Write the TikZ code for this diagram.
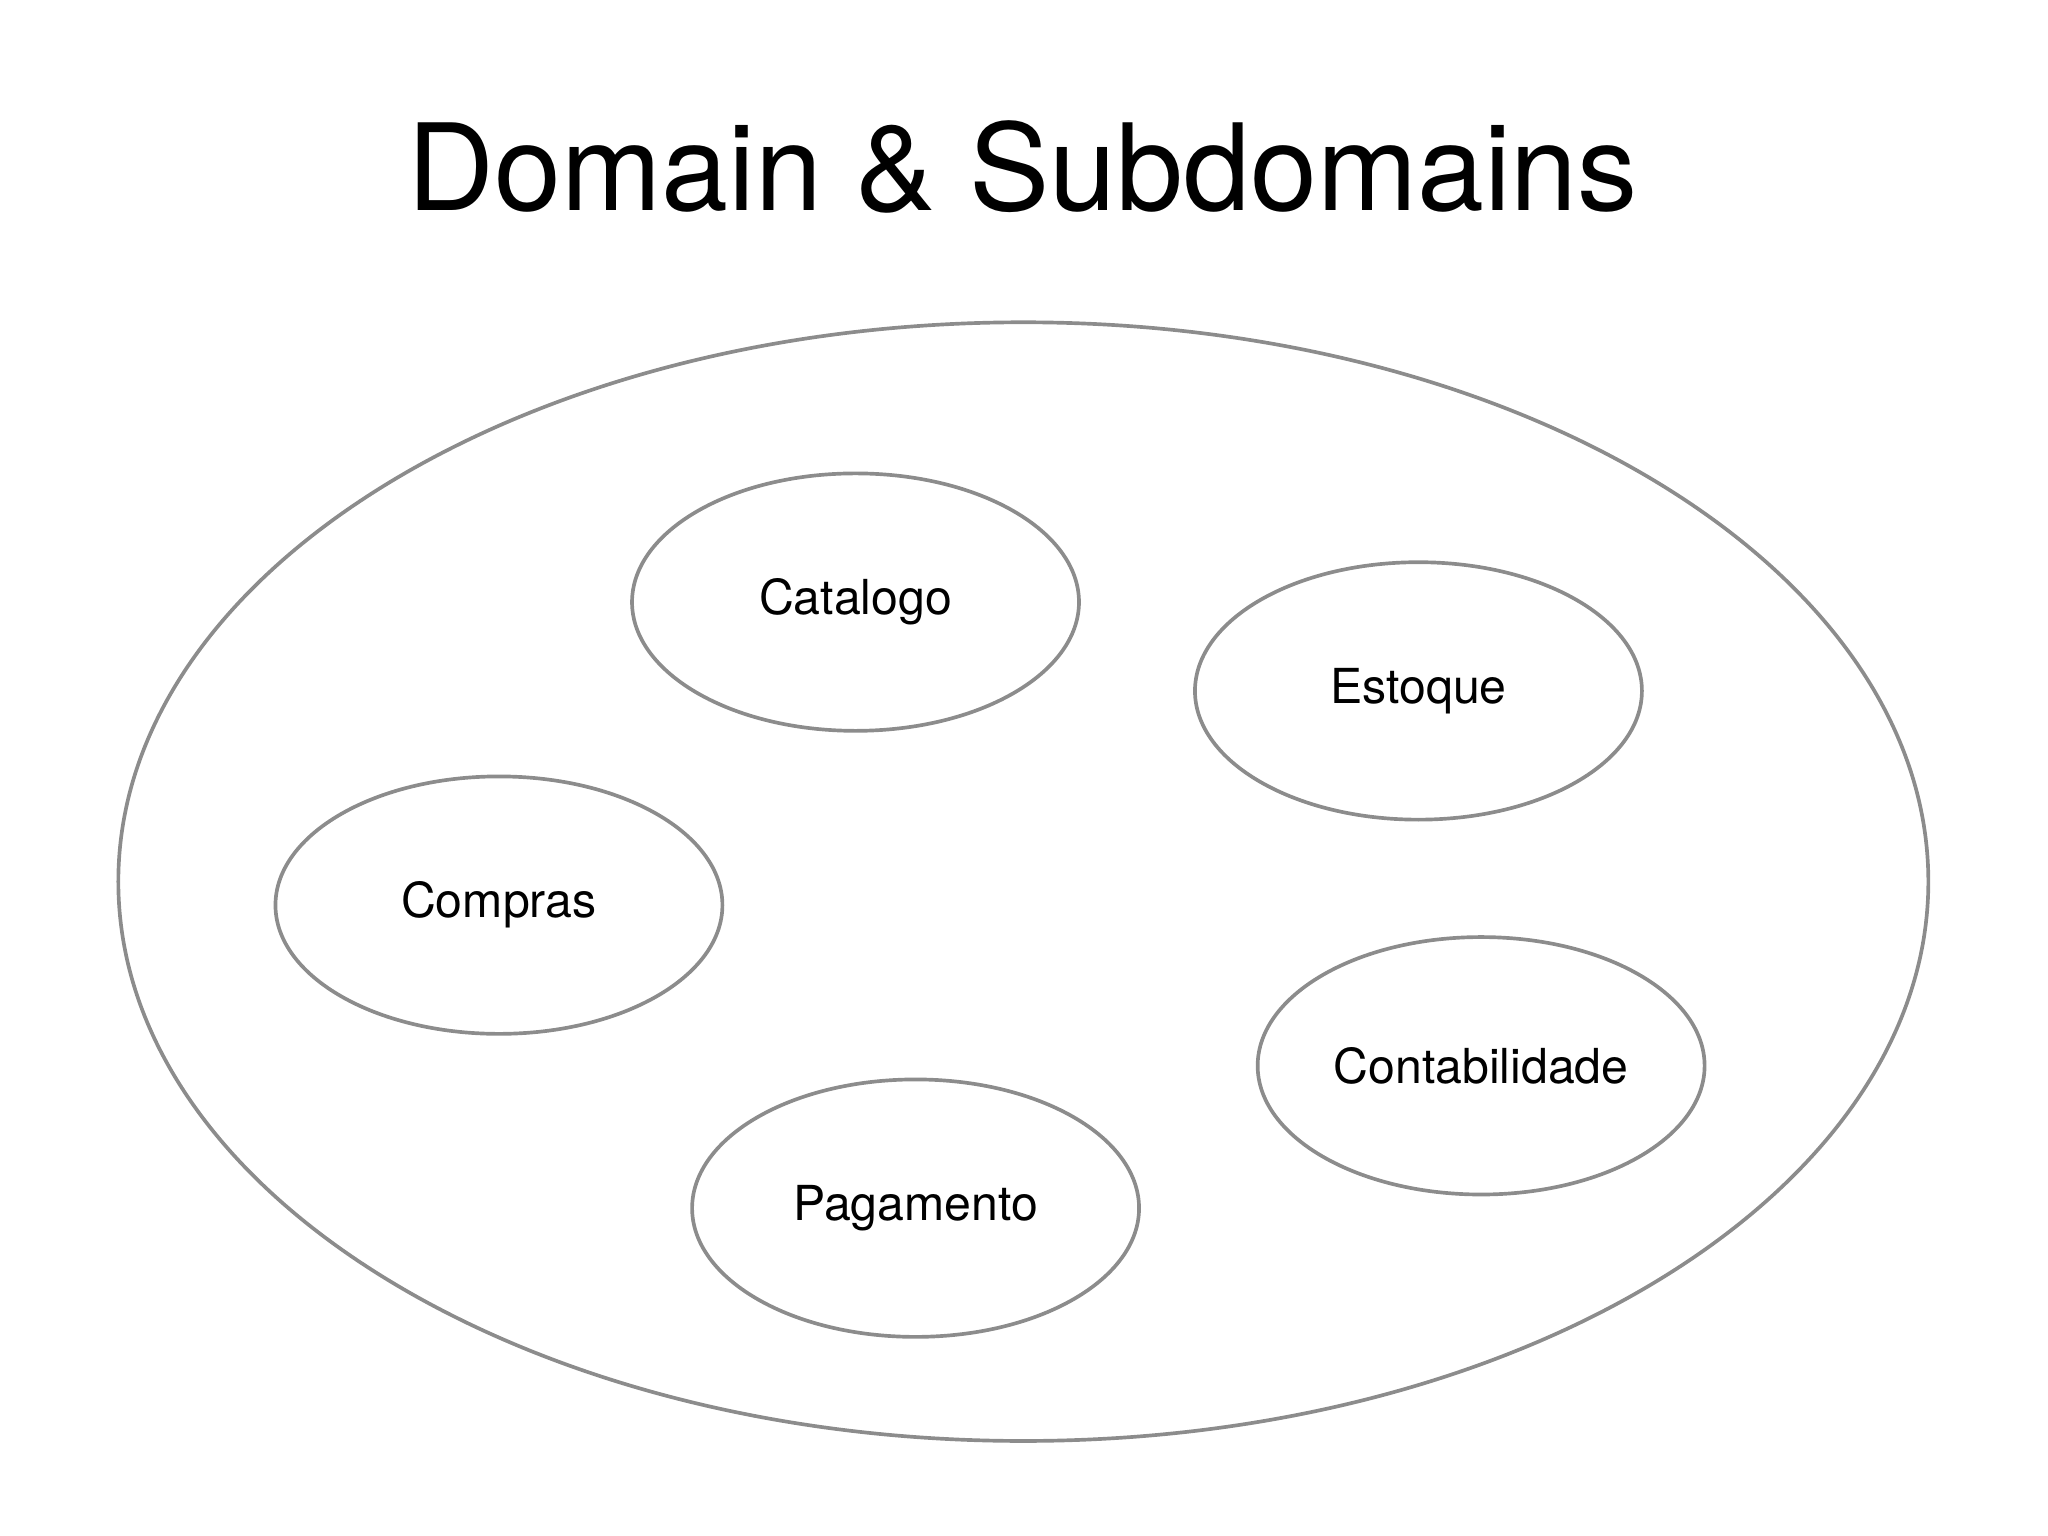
\documentclass[tikz,border=0pt]{standalone}
\usepackage{fontspec}
\setmainfont{TeX Gyre Heros}
\usetikzlibrary{shapes.geometric}
\begin{document}
\begin{tikzpicture}[x=0.01cm, y=-0.01cm,
  sub/.style={ellipse, draw=gray!90, line width=0.8pt, minimum width=3.42cm,
    minimum height=1.97cm, inner sep=0pt, font=\fontsize{10.5}{12}\selectfont}]
  \useasboundingbox (0,0) rectangle (1568,1176);

  \node[font=\fontsize{26.2}{31}\selectfont] (title) at (783,128) {Domain \& Subdomains};

  \node[ellipse, draw=gray!90, line width=0.8pt, minimum width=13.85cm,
    minimum height=8.56cm, inner sep=0pt] (domain) at (783.5,675) {};

  \node[sub] (catalogo) at (655,461) {\raisebox{-1.2pt}{Catalogo}};
  \node[sub] (estoque) at (1086,529) {\raisebox{-1.2pt}{Estoque}};
  \node[sub] (compras) at (382,693) {\raisebox{-1.2pt}{Compras}};
  \node[sub] (contab) at (1134,816) {\raisebox{-1.2pt}{Contabilidade}};
  \node[sub] (pagamento) at (701,925) {\raisebox{-1.2pt}{Pagamento}};
\end{tikzpicture}
\end{document}
